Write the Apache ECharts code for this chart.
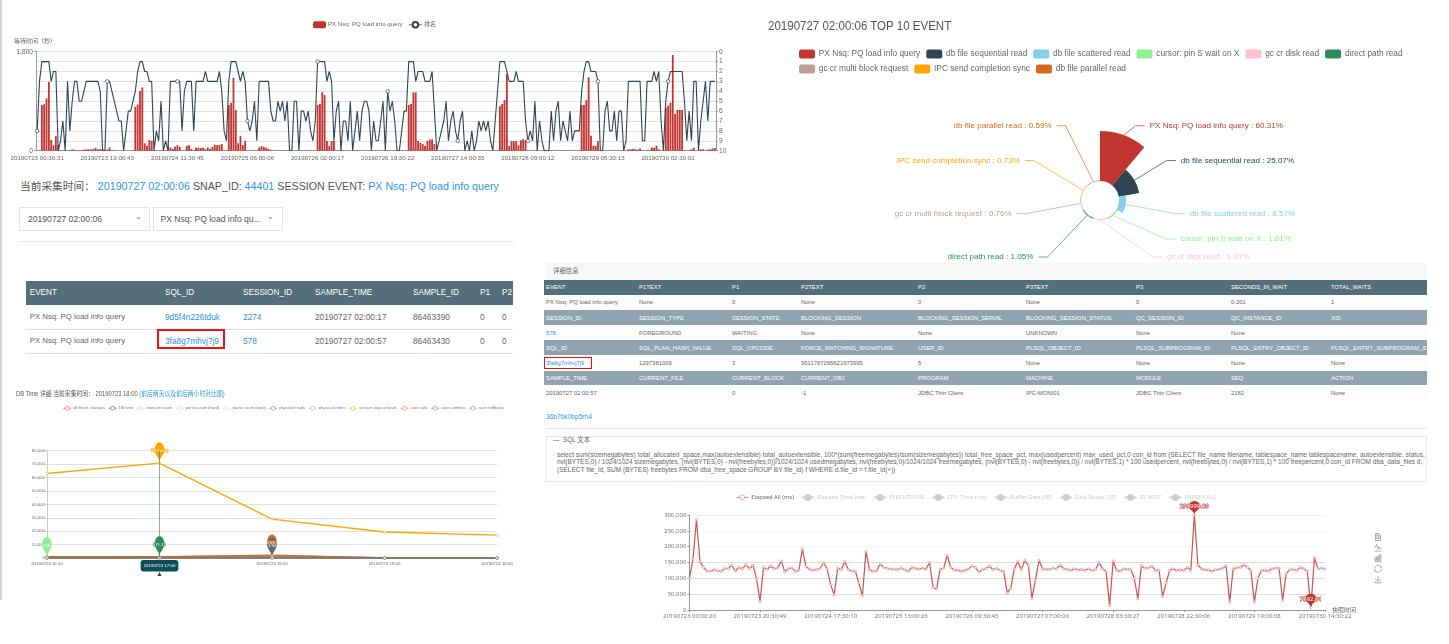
<!DOCTYPE html>
<html>
<head>
<meta charset="utf-8">
<title>TOP 10 EVENT</title>
<script src="https://cdn.jsdelivr.net/npm/echarts@6/dist/echarts.min.js"></script>
<style>
html, body { margin: 0; padding: 0; background: #fff; overflow: hidden; }
body { width: 1449px; height: 644px; position: relative; font-family: "Liberation Sans", "Noto Sans CJK SC", sans-serif; filter: blur(0.3px); }
div, span { box-sizing: border-box; }
.abs { position: absolute; white-space: nowrap; }
.link { color: #2f97dc; }
.chart { position: absolute; }
</style>
</head>
<body>
<div id="rank_chart" class="chart" style="left:0;top:10px;width:740px;height:160px"></div>
<div id="event_chart" class="chart" style="left:760px;top:10px;width:680px;height:252px"></div>
<div id="dbtime_chart" class="chart" style="left:0;top:398px;width:530px;height:186px"></div>
<div id="elapsed_chart" class="chart" style="left:660px;top:485px;width:760px;height:150px"></div>
<script>
// ---- wait / rank chart
var rankTicks = ['20190723 00:30:31', '20190723 19:00:43', '20190724 11:30:45', '20190725 06:00:06', '20190726 02:00:17',
    '20190726 19:30:22', '20190727 14:00:35', '20190728 09:00:12', '20190729 05:30:13', '20190730 02:30:01'];
var waitSeconds = [
    0, 0, 830, 845, 950, 1250, 195, 100, 265, 100,
    0, 5, 5, 5, 10, 25, 15, 5, 5, 15,
    20, 25, 25, 20, 30, 50, 25, 30, 25, 15,
    25, 60, 10, 5, 0, 0, 0, 0, 0, 0,
    0, 5, 800, 840, 1085, 1150, 135, 90, 195, 180,
    0, 0, 5, 5, 5, 5, 85, 55, 35, 70,
    100, 70, 0, 5, 90, 100, 30, 5, 55, 55,
    50, 55, 25, 55, 35, 70, 110, 100, 105, 120,
    5, 5, 830, 870, 1325, 740, 135, 270, 100, 180,
    5, 5, 5, 0, 5, 60, 85, 70, 55, 35,
    15, 5, 5, 5, 5, 5, 5, 5, 5, 5,
    0, 0, 0, 5, 5, 5, 5, 5, 0, 5,
    830, 850, 1065, 1010, 175, 85, 175, 175, 5, 5,
    20, 0, 0, 0, 0, 5, 5, 10, 5, 0,
    0, 5, 5, 5, 5, 5, 5, 5, 5, 5,
    5, 5, 5, 5, 5, 5, 5, 5, 5, 830,
    850, 1060, 1060, 175, 145, 120, 85, 180, 205, 205,
    120, 0, 5, 5, 5, 5, 5, 5, 5, 5,
    5, 5, 0, 0, 0, 0, 0, 0, 0, 0,
    0, 0, 0, 0, 0, 0, 5, 5, 810, 850,
    920, 1390, 85, 175, 175, 175, 100, 190, 210, 190,
    5, 5, 5, 5, 0, 0, 0, 0, 0, 5,
    5, 5, 5, 5, 5, 5, 5, 5, 5, 5,
    0, 0, 5, 830, 830, 920, 1335, 270, 90, 90,
    170, 5, 0, 0, 0, 5, 5, 5, 5, 5,
    5, 5, 0, 25, 25, 30, 25, 20, 40, 5,
    0, 5, 5, 60, 55, 90, 25, 0, 5, 780,
    820, 870, 1740, 665, 740, 740, 740, 5, 5, 5,
    25, 55, 5, 5, 25, 25, 5, 20, 25, 40,
    50
];
var rankValues = [
    8, 3, 1, 1, 1, 1, 3, 2, 2, 10,
    9, 7, 10, 3, 8, 5, 3, 3, 5, 5,
    4, 3, 3, 3, 3, 3, 3, 4, 10, 10,
    3, 3, 4, 5, 6, 7, 7, 10, 8, 6,
    6, 5, 4, 2, 1, 1, 2, 2, 3, 3,
    10, 8, 9, 5, 10, 9, 10, 3, 3, 3,
    3, 3, 8, 4, 3, 3, 3, 8, 3, 3,
    3, 3, 2, 3, 3, 3, 3, 3, 2, 4,
    8, 9, 3, 1, 1, 1, 2, 3, 2, 3,
    7, 8, 7, 5, 9, 3, 3, 3, 3, 3,
    6, 7, 7, 5, 6, 5, 7, 5, 10, 10,
    5, 5, 10, 6, 6, 7, 6, 8, 9, 7,
    1, 1, 1, 1, 3, 2, 3, 9, 6, 5,
    10, 7, 7, 9, 5, 10, 8, 6, 9, 6,
    5, 5, 6, 10, 7, 9, 9, 7, 5, 10,
    4, 6, 5, 7, 10, 10, 8, 6, 6, 1,
    1, 1, 3, 2, 2, 2, 3, 3, 3, 2,
    6, 10, 9, 8, 7, 5, 9, 7, 6, 8,
    9, 7, 6, 10, 9, 10, 8, 10, 9, 7,
    8, 7, 8, 7, 9, 10, 7, 4, 1, 1,
    1, 2, 3, 3, 3, 2, 3, 3, 3, 7,
    9, 8, 9, 5, 10, 7, 9, 10, 10, 10,
    6, 9, 6, 5, 9, 7, 8, 9, 6, 9,
    8, 8, 8, 4, 2, 1, 1, 2, 2, 2,
    3, 10, 10, 6, 5, 8, 8, 6, 9, 6,
    6, 10, 9, 3, 3, 3, 3, 3, 3, 9,
    9, 3, 3, 3, 2, 3, 2, 7, 10, 5,
    3, 2, 2, 2, 2, 2, 2, 5, 9, 6,
    9, 3, 3, 10, 7, 5, 3, 7, 3, 3,
    3
];

// ---- top 10 event rose
var eventNames = ['PX Nsq: PQ load info query', 'db file sequential read', 'db file scattered read', 'cursor: pin S wait on X',
    'gc cr disk read', 'direct path read', 'gc cr multi block request', 'IPC send completion sync', 'db file parallel read'];
var eventShares = [60.31, 25.07, 8.57, 1.61, 1.31, 1.05, 0.76, 0.73, 0.59];
var eventColors = ['#c23531', '#2f4554', '#87ceeb', '#90ee90', '#ffc0cb', '#2e8b57', '#bc9f94', '#ffa500', '#d2691e'];

// ---- db time chart
var dbTimeHours = ['20190723 16:00', '20190723 17:00', '20190723 18:00', '20190723 19:00', '20190724 18:00'];
var dbBlockChanges = [900, 900, 1300, 300, 300];
var dbTimeValues = [30, 40, 60, 10, 10];
var executeCount = [500, 400, 500, 100, 100];
var parseCountHard = [0.8, 0.5, 0.6, 0.1, 0.1];
var parseCountTotal = [150, 140, 200, 40, 40];
var physicalReads = [100, 676.13, 300, 10, 20];
var physicalWrites = [400, 500, 1800, 100, 100];
var sessionLogicalReads = [63000, 70714.62, 29000, 19400, 17000];
var userCalls = [700, 800, 2000, 100, 100];
var userCommits = [0.5, 0.6, 1.94, 0.1, 0.1];
var userRollbacks = [0, 0, 0, 0, 0];
var dbTimeColors = ['#c23531', '#2f4554', '#87ceeb', '#90ee90', '#ffc0cb', '#2e8b57', '#bc9f94', '#ffa500', '#d2691e', '#696969', '#808080'];

// ---- elapsed chart
var elapsedTicks = ['20190723 00:00:20', '20190723 20:30:49', '20190724 17:30:10', '20190725 13:00:26', '20190726 09:30:45',
    '20190727 07:00:00', '20190728 03:30:27', '20190728 22:30:06', '20190729 19:00:08', '20190730 14:30:22'];
var elapsedNames = ['Elapsed All (ms)', 'Elapsed Time (ms)', 'EXECUTIONS', 'CPU Time (ms)', 'Buffer Gets (38)', 'Disk Reads (38)', 'IO WAIT', 'PARSE CALL'];
var elapsedAll = [
    100000, 160000, 285000, 152000, 135000, 122000, 122000, 127000, 124000, 122000,
    131000, 131000, 141000, 123000, 135000, 130000, 143000, 130000, 141000, 100000, 27000,
    135000, 128000, 139000, 130000, 133000, 155000, 121000, 130000, 133000, 122000,
    125000, 193000, 138000, 128000, 126000, 128000, 131000, 150000, 130000, 80000,
    48000, 132000, 127000, 153000, 128000, 123000, 122000, 85000, 45000, 185000,
    127000, 122000, 123000, 145000,
    135000, 131000, 130000, 128000, 128000, 132000, 127000, 122000, 135000, 131000,
    129000, 132000, 129000, 150000, 72000, 66000, 129000, 132000, 173000, 135000,
    126000, 126000, 122000, 125000, 129000, 139000, 134000, 120000, 127000, 131000,
    138000, 127000, 132000, 125000, 122000, 54000, 68000, 130000, 153000, 127000,
    157000, 140000, 37000, 95000, 157000, 130000, 128000, 128000, 132000, 130000, 142000,
    130000, 128000, 125000, 130000, 127000, 128000, 125000, 130000, 124000, 128000,
    150000, 130000, 122000, 14000, 155000, 125000, 123000, 130000, 128000, 128000,
    100000, 35000, 140000, 132000, 133000, 138000, 125000, 125000, 43000, 85000,
    125000, 130000, 125000, 127000, 125000, 135000, 125000, 299999.09, 142000, 130000,
    127000, 126000, 122000, 127000, 128000, 132000, 140000, 25000, 130000, 133000,
    135000, 143000, 135000, 125000, 25000, 100000, 125000, 125000, 123000, 130000,
    132000, 132000, 30000, 115000, 127000, 128000, 125000, 135000, 130000, 122000,
    7592.01, 165000, 130000, 132000, 130000
];

// ---- tables and text
var sampleHeader = ['EVENT', 'SQL_ID', 'SESSION_ID', 'SAMPLE_TIME', 'SAMPLE_ID', 'P1', 'P2'];
var sampleRows = [
    ['PX Nsq: PQ load info query', '9d5f4n226tduk', '2274', '20190727 02:00:17', '86463390', '0', '0'],
    ['PX Nsq: PQ load info query', '3fa8g7mhvj7j9', '578', '20190727 02:00:57', '86463430', '0', '0']
];
var detailRows = [
    ['EVENT', 'P1TEXT', 'P1', 'P2TEXT', 'P2', 'P3TEXT', 'P3', 'SECONDS_IN_WAIT', 'TOTAL_WAITS'],
    ['PX Nsq: PQ load info query', 'None', '0', 'None', '0', 'None', '0', '0.201', '1'],
    ['SESSION_ID', 'SESSION_TYPE', 'SESSION_STATE', 'BLOCKING_SESSION', 'BLOCKING_SESSION_SERIAL', 'BLOCKING_SESSION_STATUS', 'QC_SESSION_ID', 'QC_INSTANCE_ID', 'XID'],
    ['578', 'FOREGROUND', 'WAITING', 'None', 'None', 'UNKNOWN', 'None', 'None', ''],
    ['SQL_ID', 'SQL_PLAN_HASH_VALUE', 'SQL_OPCODE', 'FORCE_MATCHING_SIGNATURE', 'USER_ID', 'PLSQL_OBJECT_ID', 'PLSQL_SUBPROGRAM_ID', 'PLSQL_ENTRY_OBJECT_ID', 'PLSQL_ENTRY_SUBPROGRAM_ID'],
    ['3fa8g7mhvj7j9', '1297381009', '3', '9511787295621973995', '5', 'None', 'None', 'None', 'None'],
    ['SAMPLE_TIME', 'CURRENT_FILE', 'CURRENT_BLOCK', 'CURRENT_OBJ', 'PROGRAM', 'MACHINE', 'MODULE', 'SEQ', 'ACTION'],
    ['20190727 02:00:57', '', '0', '-1', 'JDBC Thin Client', 'IPC-MONI01', 'JDBC Thin Client', '2182', 'None']
];
var sqlLines = [
    'select sum(sizemegabytes) total_allocated_space,max(autoextensible) total_autoextensible, 100*(sum(freemegabytes)/sum(sizemegabytes)) total_free_space_pct, max(usedpercent) max_used_pct,0 con_id from (SELECT file_name filename, tablespace_name tablespacename, autoextensible, status,',
    'nvl(BYTES,0) / 1024/1024 sizemegabytes, (nvl(BYTES,0) - nvl(freebytes,0))/1024/1024 usedmegabytes, nvl(freebytes,0)/1024/1024 freemegabytes, (nvl(BYTES,0) - nvl(freebytes,0)) / nvl(BYTES,1) * 100 usedpercent, nvl(freebytes,0) / nvl(BYTES,1) * 100 freepercent,0 con_id FROM dba_data_files d,',
    '(SELECT file_id, SUM (BYTES) freebytes FROM dba_free_space GROUP BY file_id) f WHERE d.file_id = f.file_id(+))'
];

// places one line of text, y is the vertical middle
function addText(x, y, html, css) {
    var el = document.createElement('div');
    el.className = 'abs';
    el.style.cssText = 'left:' + x + 'px;top:' + (y - 10) + 'px;line-height:20px;' + (css || '');
    el.innerHTML = html;
    document.body.appendChild(el);
    return el;
}
function addBox(x, y, w, h, css) {
    var el = document.createElement('div');
    el.className = 'abs';
    el.style.cssText = 'left:' + x + 'px;top:' + y + 'px;width:' + w + 'px;height:' + h + 'px;' + css;
    document.body.appendChild(el);
    return el;
}

function drawPage() {
    // left page edge
    addBox(0, 0, 2, 600, 'background:#d3d7da');

    // snapshot line and selectors
    addText(20, 185.5, '当前采集时间： <span class="link">20190727 02:00:06</span> SNAP_ID: <span class="link">44401</span> SESSION EVENT: <span class="link">PX Nsq: PQ load info query</span>', 'font-size:10.7px;color:#555');
    addBox(19, 207, 131, 24, 'border:1px solid #e4e4e4');
    addBox(152.5, 207, 130, 24, 'border:1px solid #e4e4e4');
    addText(28, 218.5, '20190727 02:00:06', 'font-size:8.6px;color:#555');
    addText(160.5, 218.5, 'PX Nsq: PQ load info qu...', 'font-size:8.6px;color:#555');
    addText(135, 218.5, '⌄', 'font-size:8px;color:#777;margin-top:-2px');
    addText(267, 218.5, '⌄', 'font-size:8px;color:#777;margin-top:-2px');
    addBox(18, 241, 496, 1, 'background:#e8e8e8');

    // sample table
    var sampleX = [29.7, 165, 243, 315, 413, 480, 502];
    addBox(26.4, 281, 487, 24, 'background:#546e7a');
    sampleHeader.forEach(function (text, i) {
        addText(sampleX[i], 293, text, 'font-size:8.2px;color:#fff');
    });
    sampleRows.forEach(function (row, r) {
        var mid = 317 + r * 24;
        addBox(26.4, 329 + r * 24, 487, 1, 'background:#e2e2e2');
        row.forEach(function (text, i) {
            var color = (i === 1 || i === 2) ? '#2f8fe0' : '#666';
            addText(sampleX[i], mid, text, 'font-size:' + (i === 0 ? 7.8 : 8.3) + 'px;color:' + color);
        });
    });
    addBox(157, 329, 68, 20, 'border:2px solid #f01010');

    // detail table
    var detailX = [546, 639, 732, 801, 918, 1026, 1136, 1231, 1331];
    addBox(545, 263, 882, 17, 'background:#f7f7f7');
    addText(553, 271, '详细信息', 'font-size:6.4px;color:#666');
    detailRows.forEach(function (row, r) {
        var top = 280 + r * 15.1;
        var isHead = r % 2 === 0;
        var back = r === 0 ? '#546e7a' : (isHead ? '#8fa4ae' : '#fcfcfc');
        addBox(544, top, 883, 14.6, 'background:' + back);
        row.forEach(function (text, i) {
            var color = isHead ? '#fff' : ((i === 0 && (r === 3 || r === 5)) ? '#2f8fe0' : '#666');
            addText(detailX[i], top + 7.3, text, 'font-size:5.9px;color:' + color);
        });
    });
    addBox(544, 357, 48, 12, 'border:1px solid #f01010');

    // sql block
    addText(546, 417, '36b7bk0bp5rh4', 'font-size:6.6px;color:#2f97dc');
    addBox(546, 428, 881, 1, 'background:#e8e8e8');
    addBox(546, 436, 881, 45.5, 'border:1px solid #e8e8e8');
    addText(553, 440, '—&nbsp; SQL 文本', 'font-size:6.4px;color:#666');
    sqlLines.forEach(function (text, i) {
        addText(557, 455 + i * 7.4, text, 'font-size:6.5px;color:#666');
    });

    // db time heading
    addText(16, 394, 'DB Time 详细 当前采集时间： 20190723 18:00 <span class="link">(前后两天以及前后两小时对比图)</span>', 'font-size:7.2px;color:#555;transform:scaleX(0.81);transform-origin:left center');

    // top 10 title
    addText(767.5, 26, '20190727 02:00:06 TOP 10 EVENT', 'font-size:12px;color:#555;transform:scaleX(0.96);transform-origin:left center');
}

function drawRankChart() {
    var cats = waitSeconds.map(function (v, i) {
        return i % 30 === 0 ? rankTicks[i / 30] : '';
    });
    var chart = echarts.init(document.getElementById('rank_chart'));
    chart.setOption({
        animation: false,
        color: ['#c23531', '#2f4554'],
        textStyle: {fontFamily: '"Liberation Sans","Noto Sans CJK SC",sans-serif'},
        legend: {
            top: 6,
            left: 308,
            itemWidth: 13,
            itemHeight: 7,
            itemGap: 6,
            lineStyle: {width: 0.8},
            textStyle: {fontSize: 6.1, color: '#666', padding: [0, 0, 0, -3]},
            data: ['PX Nsq: PQ load info query', '排名']
        },
        grid: {left: 36, right: 24, top: 41.7, bottom: 19.3},
        xAxis: {
            type: 'category',
            data: cats,
            axisLine: {lineStyle: {color: '#999'}},
            axisTick: {
                length: 2,
                alignWithLabel: true,
                interval: function (i) {
                    return i % 30 === 15;
                }
            },
            axisLabel: {interval: 29, fontSize: 6.2, color: '#666', margin: 4}
        },
        yAxis: [{
            type: 'value',
            name: '等待时间（秒）',
            nameGap: 7,
            nameLocation: 'end',
            nameTextStyle: {fontSize: 6, color: '#666', align: 'center', padding: [0, 0, 0, -2]},
            min: 0,
            max: 1800,
            interval: 1800,
            axisLine: {show: true, lineStyle: {color: '#999'}},
            axisTick: {show: true, length: 2},
            axisLabel: {fontSize: 6.6, color: '#666', margin: 3},
            splitLine: {show: false}
        }, {
            type: 'value',
            inverse: true,
            min: 0,
            max: 10,
            interval: 1,
            axisLine: {show: true, lineStyle: {color: '#999'}},
            axisTick: {show: true, length: 2},
            axisLabel: {fontSize: 6.6, color: '#666', margin: 3},
            splitLine: {show: true, lineStyle: {color: '#e2e2e2'}}
        }],
        series: [{
            name: 'PX Nsq: PQ load info query',
            type: 'bar',
            barWidth: '78%',
            data: waitSeconds
        }, {
            name: '排名',
            type: 'line',
            yAxisIndex: 1,
            symbol: 'circle',
            symbolSize: 3.5,
            itemStyle: {color: '#fff', borderColor: '#2f4554', borderWidth: 0.7},
            lineStyle: {width: 1.1, color: '#2f4554'},
            data: rankValues
        }]
    });
}

function drawEventChart() {
    var rows = eventNames.map(function (name, i) {
        return {name: name, value: eventShares[i]};
    });
    // [dx, dy] per label, the page squeezes the lower labels up against the panel below
    var labelMoves = [[8.7, 0], [-1.6, 0], [-2, 0], [15.6, -21.5], [53, -22], [-1.7, -3.5], [3.4, 0], [2.4, 0], [-7.4, 0]];
    var chart = echarts.init(document.getElementById('event_chart'));
    chart.setOption({
        animation: false,
        color: eventColors,
        textStyle: {fontFamily: '"Liberation Sans",sans-serif'},
        legend: {
            left: 34,
            top: 34.5,
            width: 640,
            itemWidth: 16,
            itemHeight: 9,
            itemGap: 6,
            textStyle: {fontSize: 8.3, color: '#666', padding: [0, 0, 0, -1.2]},
            data: eventNames
        },
        series: [{
            type: 'pie',
            roseType: 'area',
            center: [340, 190],
            radius: [19, 69],
            avoidLabelOverlap: false,
            label: {formatter: '{b} : {d}%', fontSize: 8.1, color: 'inherit'},
            labelLine: {length: 10, length2: 9, lineStyle: {opacity: 0.7}},
            labelLayout: function (params) {
                var move = labelMoves[params.dataIndex];
                var pts = params.labelLinePoints;
                return {
                    dx: move[0],
                    dy: move[1],
                    labelLinePoints: [pts[0], [pts[1][0] + move[0], pts[1][1] + move[1]], [pts[2][0] + move[0], pts[2][1] + move[1]]]
                };
            },
            data: rows
        }]
    });
}

function drawDbTimeChart() {
    var names = ['db block changes', 'DB time', 'execute count', 'parse count (hard)', 'parse count (total)', 'physical reads',
        'physical writes', 'session logical reads', 'user calls', 'user commits', 'user rollbacks'];
    var values = [dbBlockChanges, dbTimeValues, executeCount, parseCountHard, parseCountTotal, physicalReads,
        physicalWrites, sessionLogicalReads, userCalls, userCommits, userRollbacks];
    var withPin = {'parse count (hard)': 1, 'physical reads': 1, 'session logical reads': 1, 'user calls': 1, 'user commits': 1};
    var chart = echarts.init(document.getElementById('dbtime_chart'));
    chart.setOption({
        animation: false,
        color: dbTimeColors,
        textStyle: {fontFamily: '"Liberation Sans","Noto Sans CJK SC",sans-serif'},
        legend: {
            left: 58,
            top: 3,
            width: 470,
            itemWidth: 8,
            itemHeight: 5,
            itemGap: 3.2,
            lineStyle: {width: 0.6},
            itemStyle: {color: '#fff', borderWidth: 0.5},
            textStyle: {fontSize: 4.1, color: '#777', padding: [0, 0, 0, -3]},
            data: names
        },
        grid: {left: 47, right: 33, top: 52.7, bottom: 26},
        xAxis: {
            type: 'category',
            boundaryGap: false,
            data: dbTimeHours,
            axisLine: {lineStyle: {color: '#bbb'}},
            axisTick: {length: 2},
            axisLabel: {fontSize: 4.4, color: '#666', margin: 4},
            axisPointer: {
                show: true,
                value: '20190723 17:00',
                status: 'show',
                snap: true,
                lineStyle: {color: '#2e8b57', width: 1, opacity: 0.6, type: 'solid'},
                label: {show: true, fontSize: 4.4, color: '#fff', backgroundColor: '#0b4f55', padding: [3.5, 3], margin: 2},
                handle: {show: true, icon: 'path://M0,10 L5,0 L10,10 Z', size: 4, margin: 16, color: '#0b4f55'}
            }
        },
        yAxis: {
            type: 'value',
            min: 0,
            max: 80000,
            interval: 10000,
            axisLine: {show: true, lineStyle: {color: '#ccc'}},
            axisTick: {show: true, length: 2},
            axisLabel: {fontSize: 4.3, color: '#666', margin: 2},
            splitLine: {lineStyle: {color: '#e2e2e2'}}
        },
        series: names.map(function (name, i) {
            var row = {
                name: name,
                type: 'line',
                symbol: 'circle',
                symbolSize: 2.5,
                itemStyle: {color: '#fff', borderColor: dbTimeColors[i], borderWidth: 0.5},
                lineStyle: {width: i === 7 ? 1.3 : 1.4, color: dbTimeColors[i]},
                data: values[i]
            };
            if (withPin[name]) {
                row.markPoint = {
                    symbol: 'pin',
                    symbolSize: [16, 24],
                    itemStyle: {color: dbTimeColors[i], borderWidth: 0},
                    label: {fontSize: 4.2, color: '#fff', textBorderColor: dbTimeColors[i], textBorderWidth: 0.8},
                    data: [{type: 'max'}]
                };
            }
            return row;
        })
    });
}

function drawElapsedChart() {
    var cats = elapsedAll.map(function (v, i) {
        return i % 20 === 0 ? elapsedTicks[i / 20] : '';
    });
    var unselected = {};
    elapsedNames.slice(1).forEach(function (name) {
        unselected[name] = false;
    });
    var chart = echarts.init(document.getElementById('elapsed_chart'));
    chart.setOption({
        animation: false,
        color: ['#c23531'],
        textStyle: {fontFamily: '"Noto Sans","Noto Sans CJK SC",sans-serif'},
        legend: {
            top: 4,
            left: 71,
            itemWidth: 12,
            itemHeight: 6,
            itemGap: 7,
            inactiveColor: '#ccc',
            inactiveBorderColor: '#ccc',
            lineStyle: {width: 0.7},
            itemStyle: {color: '#fff', borderWidth: 0.6},
            textStyle: {fontSize: 5.8, color: '#666', padding: [0, 0, 0, -2]},
            selected: unselected,
            data: elapsedNames
        },
        toolbox: {
            show: true,
            showTitle: false,
            orient: 'vertical',
            left: 697,
            top: 31,
            itemSize: 7,
            itemGap: -1.4,
            iconStyle: {borderColor: '#aaa'},
            feature: {
                dataView: {show: true},
                magicType: {show: true, type: ['line', 'bar']},
                restore: {show: true},
                saveAsImage: {show: true}
            }
        },
        grid: {left: 26, right: 95, top: 30, bottom: 25},
        xAxis: {
            type: 'category',
            boundaryGap: false,
            name: '快照时间',
            nameGap: 7,
            nameTextStyle: {fontSize: 6, color: '#666'},
            data: cats,
            axisLine: {lineStyle: {color: '#999'}},
            axisTick: {length: 2, interval: 19},
            axisLabel: {interval: 19, fontSize: 6, color: '#777', margin: 3}
        },
        yAxis: {
            type: 'value',
            min: 0,
            max: 300000,
            interval: 50000,
            axisLine: {show: true, lineStyle: {color: '#999'}},
            axisTick: {show: true, length: 2},
            axisLabel: {fontSize: 6, color: '#777', margin: 3},
            splitLine: {lineStyle: {color: ['#ddd', '#ddd', '#ddd', '#ddd', '#f4f4f4', '#f4f4f4', '#f0f0f0']}}
        },
        series: elapsedNames.map(function (name, i) {
            var row = {
                name: name,
                type: 'line',
                symbol: 'circle',
                symbolSize: 2.5,
                showAllSymbol: true,
                itemStyle: {color: '#f6dcdc', borderColor: '#d97a78', borderWidth: 0.4},
                lineStyle: {width: 1.2, color: '#c23531', opacity: 0.85},
                data: i === 0 ? elapsedAll : []
            };
            if (i === 0) {
                row.markPoint = {
                    symbol: 'pin',
                    symbolSize: [18, 16],
                    itemStyle: {color: '#c23531', borderWidth: 0},
                    label: {fontSize: 6, color: '#fff', textBorderColor: '#c23531', textBorderWidth: 1},
                    data: [{type: 'max'}, {type: 'min'}]
                };
            }
            return row;
        })
    });
}

drawPage();
drawRankChart();
drawEventChart();
drawDbTimeChart();
drawElapsedChart();
</script>
</body>
</html>
